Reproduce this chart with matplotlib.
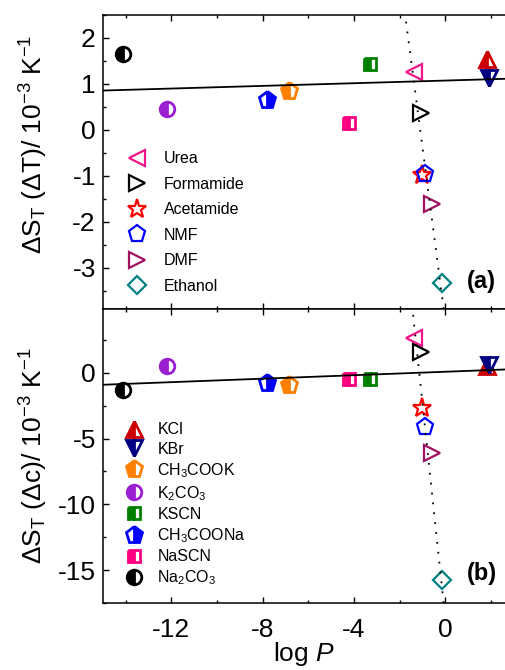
import numpy as np
import matplotlib
matplotlib.use("Agg")
import matplotlib.pyplot as plt
from matplotlib.lines import Line2D
from matplotlib.ticker import MultipleLocator

plt.rcParams["font.family"] = ["Liberation Sans", "DejaVu Sans"]
plt.rcParams["mathtext.fontset"] = "custom"
plt.rcParams["mathtext.rm"] = "Liberation Sans"
plt.rcParams["mathtext.it"] = "Liberation Sans:italic"
plt.rcParams["mathtext.bf"] = "Liberation Sans:bold"
plt.rcParams["axes.unicode_minus"] = False

# salts: log P, dS_T from temperature gradient and from concentration gradient
salt_names = ["KCl", "KBr", "CH$_3$COOK", "K$_2$CO$_3$", "KSCN", "CH$_3$COONa", "NaSCN", "Na$_2$CO$_3$"]
salt_logp = [1.81, 1.93, -6.86, -12.18, -3.30, -7.82, -4.23, -14.13]
salt_dT = [1.54, 1.12, 0.855, 0.457, 1.43, 0.65, 0.16, 1.65]
salt_dc = [0.50, 0.63, -0.965, 0.555, -0.46, -0.76, -0.46, -1.32]
salt_colors = ["#CC0000", "#000080", "#FF8000", "#9A1FD0", "#008000", "#0000FF", "#FF0080", "black"]
salt_markers = ["^", "v", "p", "o", "s", "p", "s", "o"]
salt_fill = ["left", "left", "left", "left", "left", "right", "left", "left"]

# non-ionic solutes
solv_names = ["Urea", "Formamide", "Acetamide", "NMF", "DMF", "Ethanol"]
solv_logp = [-1.35, -1.06, -1.03, -0.89, -0.56, -0.13]
solv_dT = [1.27, 0.36, -0.98, -0.96, -1.61, -3.33]
solv_dc = [2.66, 1.57, -2.66, -4.10, -6.08, -15.76]
solv_colors = ["#F0148C", "black", "#FF0000", "#0000FF", "#A01060", "#008080"]
solv_markers = ["<", ">", "*", "p", ">", "D"]

# linear fits: salts  y = k*logP + b ; solutes  logP = a + c*y
salt_fit_dT = (0.0145, 1.073)
salt_fit_dc = (0.066, 0.08)
solv_fit_dT = (-1.095, -0.264)
solv_fit_dc = (-1.137, -0.061)

xlim = (-15, 2.65)
ylim_a = (-3.9, 2.5)
ylim_b = (-17.5, 4.85)

msize = {"^": 11.5, "v": 11.5, "p": 12.5, "o": 10.5, "s": 9.0,
         "<": 12, ">": 12, "*": 14, "D": 9.5}

fig = plt.figure(figsize=(5.05, 6.70), dpi=100)
ax_a = fig.add_axes([0.2034, 0.5388, 0.798, 0.4388])
ax_b = fig.add_axes([0.2034, 0.1000, 0.798, 0.4388])


def salt_style(i):
    return dict(marker=salt_markers[i], ms=msize[salt_markers[i]], color=salt_colors[i],
                mec=salt_colors[i], mew=2.0, fillstyle=salt_fill[i],
                markerfacecoloralt="white", ls="none")


def solv_style(i):
    return dict(marker=solv_markers[i], ms=msize[solv_markers[i]], mfc="none",
                mec=solv_colors[i], mew=1.6, ls="none")


def draw(ax, y_salt, y_solv, salt_fit, solv_fit, ylim):
    xs = np.array(xlim)
    ax.plot(xs, salt_fit[0] * xs + salt_fit[1], color="black", lw=1.3, zorder=4)
    ys = np.array(ylim)
    ax.plot(solv_fit[0] + solv_fit[1] * ys, ys, color="black", lw=1.3,
            linestyle=(0, (1, 4.5)), zorder=4)
    for i in range(len(salt_names)):
        ax.plot(salt_logp[i], y_salt[i], zorder=3, **salt_style(i))
    for i in range(len(solv_names)):
        ax.plot(solv_logp[i], y_solv[i], zorder=3, **solv_style(i))
    ax.set_xlim(*xlim)
    ax.set_ylim(*ylim)
    ax.spines["right"].set_visible(False)
    for s in ["left", "top", "bottom"]:
        ax.spines[s].set_linewidth(1.1)
    ax.xaxis.set_major_locator(MultipleLocator(4))
    ax.xaxis.set_minor_locator(MultipleLocator(2))
    ax.tick_params(which="both", direction="in", top=True, right=False, width=1.0,
                   labelsize=19)
    ax.tick_params(which="major", length=4.5)
    ax.tick_params(which="minor", length=2.3)
    ax.tick_params(axis="y", pad=5)
    ax.tick_params(axis="x", pad=10.5)


draw(ax_a, salt_dT, solv_dT, salt_fit_dT, solv_fit_dT, ylim_a)
draw(ax_b, salt_dc, solv_dc, salt_fit_dc, solv_fit_dc, ylim_b)

ax_a.yaxis.set_major_locator(MultipleLocator(1))
ax_a.yaxis.set_minor_locator(MultipleLocator(0.5))
ax_a.tick_params(axis="x", labelbottom=False)
ax_b.yaxis.set_major_locator(MultipleLocator(5))
ax_b.yaxis.set_minor_locator(MultipleLocator(2.5))

ax_a.set_ylabel(r"$\Delta$S$_\mathrm{T}$ ($\Delta$T)/ 10$^{-3}$ K$^{-1}$", fontsize=19)
ax_b.set_ylabel(r"$\Delta$S$_\mathrm{T}$ ($\Delta$c)/ 10$^{-3}$ K$^{-1}$", fontsize=19)
ax_a.yaxis.set_label_coords(-0.13, 0.56)
ax_b.yaxis.set_label_coords(-0.13, 0.50)
ax_b.set_xlabel(r"log $P$", fontsize=19, labelpad=-1.5)

ax_a.text(0.94, 0.092, "(a)", transform=ax_a.transAxes, fontsize=17,
          fontweight="bold", ha="center", va="center")
ax_b.text(0.94, 0.102, "(b)", transform=ax_b.transAxes, fontsize=17,
          fontweight="bold", ha="center", va="center")

# legends
solv_handles = [Line2D([], [], **solv_style(i)) for i in range(len(solv_names))]
ax_a.legend(solv_handles, solv_names, loc="upper left", bbox_to_anchor=(0.065, 0.537),
            frameon=False, fontsize=11.5, handlelength=1.0, handletextpad=1.2,
            borderpad=0, borderaxespad=0, labelspacing=0.66)

salt_handles = [Line2D([], [], **salt_style(i)) for i in range(len(salt_names))]
ax_b.legend(salt_handles, salt_names, loc="upper left", bbox_to_anchor=(0.0586, 0.615),
            frameon=False, fontsize=11.5, handlelength=1.0, handletextpad=0.95,
            borderpad=0, borderaxespad=0, labelspacing=0.27)

fig.savefig("out.png", dpi=100)
